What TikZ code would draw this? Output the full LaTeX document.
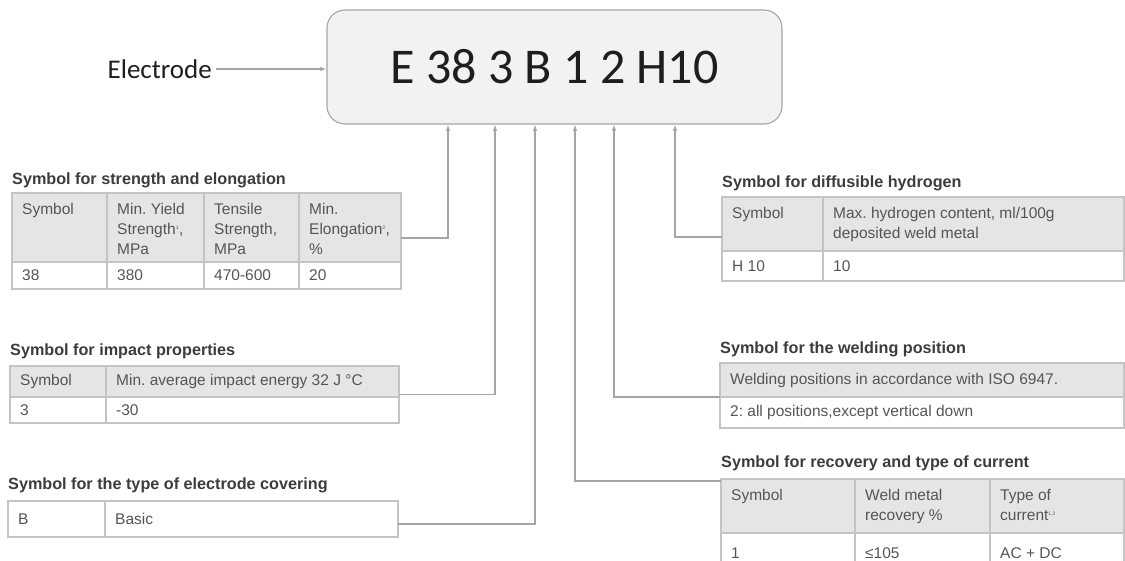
\documentclass[tikz,border=0pt]{standalone}
\usepackage{fontspec}
\setmainfont{Liberation Sans}
\newfontfamily\calib{Carlito}
\usetikzlibrary{arrows.meta, positioning, fit}
\definecolor{boxgray}{RGB}{242,242,242}
\definecolor{boxline}{RGB}{165,165,165}
\definecolor{codetext}{RGB}{30,30,30}
\definecolor{tblhead}{RGB}{229,229,229}
\definecolor{tblline}{RGB}{196,196,196}
\definecolor{tbltext}{RGB}{85,85,85}
\definecolor{ttltext}{RGB}{60,60,60}
\frenchspacing
\begin{document}
\begin{tikzpicture}[x=1pt, y=-1pt,
  font=\fontsize{15.5}{20}\selectfont,
  codebox/.style={draw=boxline, fill=boxgray, line width=1.1pt, rounded corners=18pt,
                  minimum width=455pt, minimum height=114pt, text=codetext,
                  font=\calib\fontsize{50}{50}\selectfont},
  cell/.style 2 args={draw=tblline, line width=1.1pt, anchor=north west, inner sep=0pt,
                      outer sep=0pt, minimum width=#1pt, minimum height=#2pt},
  hd/.style={fill=tblhead},
  txt/.style={text=tbltext, align=left, inner xsep=10pt, inner ysep=10.5pt},
  hl/.style={label={[txt, anchor=north west]north west:{#1}}},
  dl/.style={label={[txt, anchor=west]west:{#1}}},
  ttl/.style={anchor=base west, inner sep=0pt, text=ttltext,
              font=\bfseries\fontsize{16.2}{20}\selectfont},
  frame/.style={inner sep=0pt, outer sep=0pt},
  ar/.style={draw=boxline, line width=1.2pt, -{Latex[length=6pt, width=4.5pt]}}]
\useasboundingbox (0,0) rectangle (1125,560);

% designation
\node[codebox] (code) at (554.5,67) {E 38 3 B 1 2 H10};
\node[anchor=east, inner sep=4pt, text=codetext, font=\calib\fontsize{27}{27}\selectfont]
  (elec) at (216,69) {Electrode};
\draw[ar] (elec.east) -- (elec.east -| code.west);
\coordinate (k38) at (448,0 |- code.south);
\coordinate (k3) at (495,0 |- code.south);
\coordinate (kB) at (535,0 |- code.south);
\coordinate (k1) at (575,0 |- code.south);
\coordinate (k2) at (614,0 |- code.south);
\coordinate (kH10) at (675,0 |- code.south);

% strength and elongation
\node[ttl] (ttl38) at (12,184) {Symbol for strength and elongation};
\node[cell={95}{69}, hd, hl=Symbol] (s11) at (12,193) {};
\node[cell={97}{69}, hd, hl={Min. Yield\\Strength\textsuperscript{\tiny 1},\\MPa}] (s12) at (s11.north east) {};
\node[cell={95}{69}, hd, hl={Tensile\\Strength,\\MPa}] (s13) at (s12.north east) {};
\node[cell={102}{69}, hd, hl={Min.\\Elongation\textsuperscript{\tiny 2},\\\%}] (s14) at (s13.north east) {};
\node[cell={95}{27}, dl=38] (s21) at (s11.south west) {};
\node[cell={97}{27}, dl=380] (s22) at (s12.south west) {};
\node[cell={95}{27}, dl=470-600] (s23) at (s13.south west) {};
\node[cell={102}{27}, dl=20] (s24) at (s14.south west) {};
\node[frame, fit=(s11)(s24)] (t38) {};

% impact properties
\node[ttl] (ttl3) at (10,355) {Symbol for impact properties};
\node[cell={96}{31}, hd, dl=Symbol] (i11) at (10,366) {};
\node[cell={293}{31}, hd, dl={Min. average impact energy 32 J °C}] (i12) at (i11.north east) {};
\node[cell={96}{26}, dl=3] (i21) at (i11.south west) {};
\node[cell={293}{26}, dl=-30] (i22) at (i12.south west) {};
\node[frame, fit=(i11)(i22)] (t3) {};

% electrode covering
\node[ttl] (ttlB) at (8,489) {Symbol for the type of electrode covering};
\node[cell={97}{36}, dl=B] (b11) at (8,501) {};
\node[cell={293}{36}, dl=Basic] (b12) at (b11.north east) {};
\node[frame, fit=(b11)(b12)] (tB) {};

% diffusible hydrogen
\node[ttl] (ttlH10) at (722,187) {Symbol for diffusible hydrogen};
\node[cell={101}{54}, hd, hl=Symbol] (h11) at (722,197) {};
\node[cell={301}{54}, hd, hl={Max. hydrogen content, ml/100g\\deposited weld metal}] (h12) at (h11.north east) {};
\node[cell={101}{30}, dl={H 10}] (h21) at (h11.south west) {};
\node[cell={301}{30}, dl=10] (h22) at (h12.south west) {};
\node[frame, fit=(h11)(h22)] (tH10) {};

% welding position
\node[ttl] (ttl2) at (720,353) {Symbol for the welding position};
\node[cell={404}{34}, hd, dl={Welding positions in accordance with ISO 6947.}] (w11) at (720,363) {};
\node[cell={404}{31}, dl={2: all positions,except vertical down}] (w21) at (w11.south west) {};
\node[frame, fit=(w11)(w21)] (t2) {};

% recovery and current
\node[ttl] (ttl1) at (721,467) {Symbol for recovery and type of current};
\node[cell={134}{54}, hd, hl=Symbol] (r11) at (721,479) {};
\node[cell={135}{54}, hd, hl={Weld metal\\recovery \%}] (r12) at (r11.north east) {};
\node[cell={134}{54}, hd, hl={Type of\\current\textsuperscript{\tiny 1,2}}] (r13) at (r12.north east) {};
\node[cell={134}{40}, dl=1] (r21) at (r11.south west) {};
\node[cell={135}{40}, dl=≤105] (r22) at (r12.south west) {};
\node[cell={134}{40}, dl={AC + DC}] (r23) at (r13.south west) {};
\node[frame, fit=(r11)(r23)] (t1) {};

% connectors
\draw[ar] ([yshift=3pt]t38.east) -| (k38);
\draw[ar] (t3.east) -| (k3);
\draw[ar] ([yshift=-5pt]tB.east) -| (kB);
\draw[ar] ([yshift=-2pt]t1.north west) -| (k1);
\draw[ar] ([yshift=-1.5pt]t2.west) -| (k2);
\draw[ar] ([yshift=2pt]tH10.west) -| (kH10);
\end{tikzpicture}
\end{document}
